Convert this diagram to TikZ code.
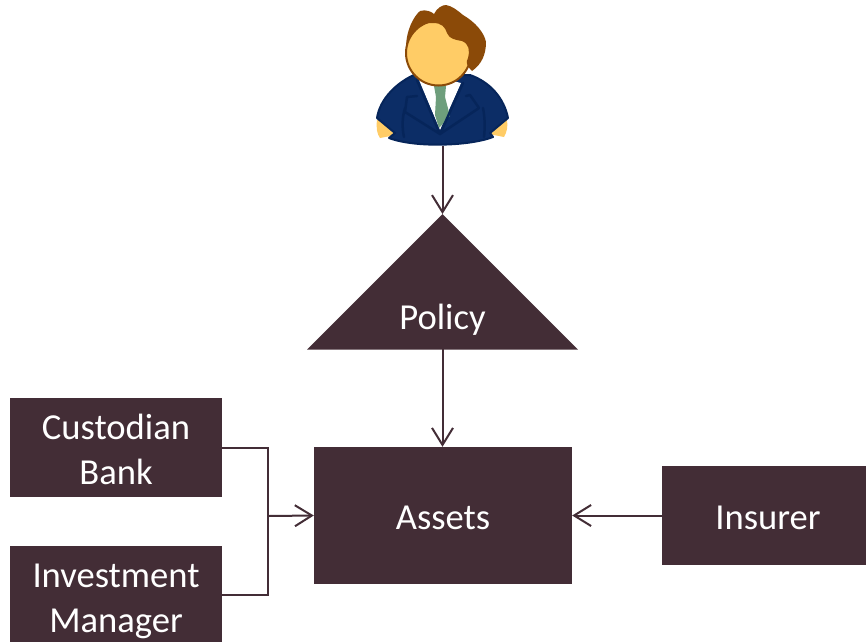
\documentclass[tikz,border=0pt]{standalone}
\usepackage{fontspec}
\setmainfont{Carlito}
\usetikzlibrary{arrows.meta}
\definecolor{plum}{HTML}{432D36}
\definecolor{navy}{HTML}{0C2D66}
\definecolor{navyline}{HTML}{06255A}
\definecolor{hairc}{HTML}{8B4A08}
\definecolor{skin}{HTML}{FFCC66}
\definecolor{tiec}{HTML}{6E9E7C}
\newcommand\dn[1]{\raisebox{-2pt}[\height][\depth]{#1}}
\tikzset{
  box/.style={fill=plum,text=white,inner sep=0pt,align=center,font=\fontsize{36.6}{44.5}\selectfont},
  link/.style={draw=plum,line width=2pt},
  arr/.style={link,-{Straight Barb[length=17pt,width=21pt,line width=2pt]}},
}
\begin{document}
\begin{tikzpicture}[x=1pt,y=-1pt]
\useasboundingbox (0,0) rectangle (866,641);
% person
\fill[skin] (377,120) .. controls (376,128) and (377,134) .. (380,138) -- (396,135) -- (397,120) -- cycle;
\fill[skin] (488,120) -- (489,134) -- (504,137) .. controls (507,132) and (508,126) .. (507,120) -- cycle;
\draw[navyline,line width=2pt,fill=navy,line join=round]
  (377,118) .. controls (380,98) and (398,82) .. (414,75) -- (470,75)
  .. controls (490,82) and (504,98) .. (508,118)
  -- (490,133) -- (493,137) .. controls (470,146) and (415,148) .. (389,138) -- (395,133) -- cycle;
\fill[white] (419,80) -- (440,130) -- (461,83) -- (440,78) -- cycle;
\fill[tiec] (434,86) -- (446,86) -- (445,97) -- (450,116) -- (439,128) -- (435,115) -- (436,97) -- cycle;
\draw[navyline,line width=2.5pt,line join=round,line cap=round]
  (417,80) -- (440,134) -- (463,83)
  (405,112) -- (440,134) -- (479,108)
  (405,112) -- (407,97) -- (417,96)
  (479,108) -- (470,95) -- (466,96)
  (405,108) .. controls (402,118) and (402,128) .. (404,137)
  (483,108) .. controls (485,118) and (485,128) .. (484,137);
\draw[hairc,line width=2pt,fill=skin] (438.5,53) circle[radius=32.5];
\fill[hairc] (406,48) .. controls (406,30) and (414,16) .. (420,11)
  .. controls (426,9) and (432,12) .. (434,14)
  .. controls (437,8) and (442,5) .. (446,5)
  .. controls (452,6) and (457,10) .. (463,15)
  .. controls (475,22) and (484,32) .. (486,42)
  .. controls (486,54) and (482,64) .. (472,71)
  .. controls (466,65) and (466,62) .. (468,58)
  .. controls (470,50) and (469,44) .. (462,41)
  .. controls (456,40) and (449,39) .. (447,33)
  .. controls (445,27) and (442,23) .. (433,23)
  .. controls (422,22) and (410,30) .. (406,48) -- cycle;
\coordinate (person) at (442.5,146);
% triangle
\coordinate (apex) at (442.5,214);
\coordinate (tl) at (307,349.5);
\coordinate (tr) at (578,349.5);
\fill[plum] (apex) -- (tr) -- (tl) -- cycle;
\node[text=white,font=\fontsize{36.6}{44.5}\selectfont,inner sep=0pt] (policy) at (442.5,318) {\dn{Policy}};
\coordinate (base) at (442.5,349);
% boxes
\node[box,minimum width=258pt,minimum height=137pt] (assets) at (443,515.5) {\dn{Assets}};
\node[box,minimum width=212pt,minimum height=99pt] (custodian) at (116,447.5) {\dn{Custodian}\\\dn{Bank}};
\node[box,minimum width=212pt,minimum height=107pt] (manager) at (116,599.5) {\dn{Investment}\\\dn{Manager}};
\node[box,minimum width=212pt,minimum height=99pt] (insurer) at (768,515.5) {\dn{Insurer}};
\coordinate (join) at (268,516);
% connectors
\draw[arr] (person) -- (apex);
\draw[arr] (base) -- (assets.north -| base);
\draw[arr] (insurer.west) -- (assets.east);
\draw[link] (custodian.east |- 0,448) -- (join |- 0,448) -- (join |- 0,595) -- (manager.east |- 0,595);
\draw[arr] (join) -- (assets.west);
\end{tikzpicture}
\end{document}
